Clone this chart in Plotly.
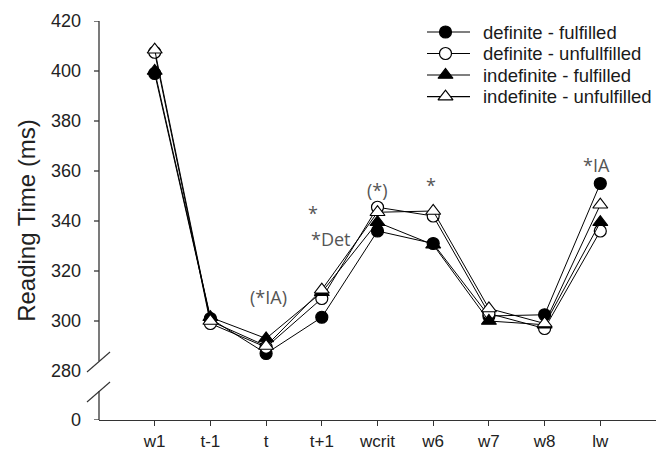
import plotly.graph_objects as go

# ---------------- data ----------------
positions = ["w1", "t-1", "t", "t+1", "wcrit", "w6", "w7", "w8", "lw"]
def_fulfilled = [399, 301, 287, 301.5, 336, 331, 302, 302.5, 355]
def_unfulfilled = [407.5, 299, 289.5, 309, 345.5, 342, 303, 297, 336]
indef_fulfilled = [400, 301.5, 293, 311.5, 339.5, 330.5, 300, 298.5, 339.5]
indef_unfulfilled = [408.5, 300, 290, 312.5, 343.5, 344, 305, 299, 346.5]

series_names = ["definite - fulfilled", "definite - unfullfilled",
                "indefinite - fulfilled", "indefinite - unfulfilled"]

upper_ticks = [280, 300, 320, 340, 360, 380, 400, 420]
zero_pos = 260.4          # where the "0" of the broken axis sits
break_top = 284           # upper axis segment ends here
break_bottom = 272        # lower axis segment starts here

# significance annotations: (text, category, value, x-shift px, anchor)
notes = [
    ("(*IA)", "t", 309.7, 2, "center"),
    ("*", "t+1", 343.2, -9, "center"),
    ("*Det", "t+1", 333.0, -13, "left"),
    ("(*)", "wcrit", 352.4, 0, "center"),
    ("*", "w6", 354.4, -2, "center"),
    ("*IA", "lw", 362.4, -4, "center"),
]

# legend layout (pixel units on an overlay axis)
LEG_LINE = (427, 470)
LEG_MARK_X = 445.5
LEG_TEXT_X = 481
LEG_ROWS = [32, 53.5, 75, 96.7]

# ---------------- figure ----------------
FONT = "Arial, Liberation Sans, sans-serif"
fig = go.Figure()

styles = [
    dict(symbol="circle", color="black", size=12),
    dict(symbol="circle", color="white", size=12),
    dict(symbol="triangle-up", color="black", size=13),
    dict(symbol="triangle-up", color="white", size=13),
]
all_series = [def_fulfilled, def_unfulfilled, indef_fulfilled, indef_unfulfilled]
for name, vals, st in zip(series_names, all_series, styles):
    fig.add_trace(go.Scatter(
        x=positions, y=vals, name=name, mode="lines+markers",
        line=dict(color="black", width=1),
        marker=dict(symbol=st["symbol"], size=st["size"], color=st["color"],
                    line=dict(color="black", width=1.2)),
        cliponaxis=False, showlegend=False,
    ))

# manual legend (glyphs on a pixel-unit overlay axis)
annotations = []
for name, st, ry in zip(series_names, styles, LEG_ROWS):
    fig.add_trace(go.Scatter(
        x=list(LEG_LINE), y=[ry, ry], mode="lines", xaxis="x2", yaxis="y2",
        line=dict(color="black", width=1.2), showlegend=False, hoverinfo="skip",
        cliponaxis=False))
    fig.add_trace(go.Scatter(
        x=[LEG_MARK_X], y=[ry], mode="markers", xaxis="x2", yaxis="y2",
        marker=dict(symbol=st["symbol"], size=st["size"], color=st["color"],
                    line=dict(color="black", width=1.2)),
        showlegend=False, hoverinfo="skip", cliponaxis=False))
    annotations.append(dict(text=name, x=LEG_TEXT_X, y=ry, xref="x2", yref="y2",
                            xanchor="left", yanchor="middle", showarrow=False,
                            font=dict(family=FONT, size=18.5, color="#1a1a1a")))

shapes = []
axis_col = "#333333"
shapes.append(dict(type="line", xref="paper", yref="y", x0=0, x1=0,
                   y0=break_top, y1=420, line=dict(color=axis_col, width=1.3)))
shapes.append(dict(type="line", xref="paper", yref="y", x0=0, x1=0,
                   y0=zero_pos, y1=break_bottom, line=dict(color=axis_col, width=1.3)))
plot_w = 656 - 99
for y_lo, y_hi in [(279.6, 287.6), (267.6, 275.6)]:
    shapes.append(dict(type="line", xref="paper", yref="y",
                       x0=-12 / plot_w, x1=11 / plot_w, y0=y_lo, y1=y_hi,
                       line=dict(color=axis_col, width=1.1)))
for v in [zero_pos] + [t for t in upper_ticks if t != 280]:
    shapes.append(dict(type="line", xref="paper", yref="y",
                       x0=-5 / plot_w, x1=0, y0=v, y1=v,
                       line=dict(color=axis_col, width=1.3)))

for txt, cat, val, dx, anc in notes:
    annotations.append(dict(text=txt, x=cat, y=val, xref="x", yref="y",
                            showarrow=False, xshift=dx, xanchor=anc,
                            font=dict(family="Open Sans, sans-serif",
                                      size=18, color="#555555")))

fig.update_layout(
    width=656, height=455,
    margin=dict(l=99, r=0, t=21, b=35),
    paper_bgcolor="white", plot_bgcolor="white",
    font=dict(family=FONT, color="#222222", size=18),
    showlegend=False,
    shapes=shapes,
    annotations=annotations,
    xaxis=dict(type="category", range=[-1, 9], showgrid=False, zeroline=False,
               showline=True, linecolor=axis_col, linewidth=1.3,
               ticks="outside", ticklen=5, tickcolor=axis_col, tickwidth=1.3,
               tickfont=dict(size=17, family=FONT, color="#222222")),
    yaxis=dict(range=[zero_pos, 420], showgrid=False, zeroline=False,
               showline=False, ticks="",
               tickvals=[zero_pos] + upper_ticks,
               ticktext=["0"] + [str(t) for t in upper_ticks],
               ticklabelstandoff=17,
               tickfont=dict(size=18, family=FONT, color="#222222"),
               title=dict(text="Reading Time (ms)", standoff=8,
                          font=dict(size=24, family=FONT, color="#222222"))),
    xaxis2=dict(overlaying="x", range=[99, 656], visible=False, fixedrange=True),
    yaxis2=dict(overlaying="y", range=[420, 21], visible=False, fixedrange=True),
)

fig.write_html("out.html")
